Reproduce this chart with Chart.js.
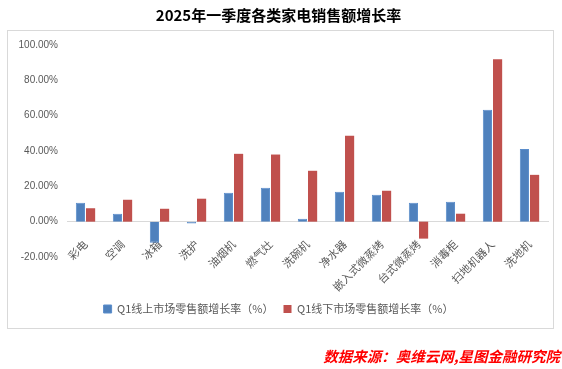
<!DOCTYPE html>
<html>
<head>
<meta charset="utf-8">
<script src="https://cdn.jsdelivr.net/npm/chart.js@4"></script>
<style>
  html, body { margin:0; padding:0; background:#fff; }
  #wrap { width:562px; height:369px; position:relative; }
</style>
</head>
<body>
<div id="wrap"><canvas id="chart"></canvas></div>
<script>
// ─── DATA ─────────────────────────────────────────────────────────────────────
const categories = ['彩电','空调','冰箱','洗护','油烟机','燃气灶','洗碗机','净水器','嵌入式微蒸烤','台式微蒸烤','消毒柜','扫地机器人','洗地机'];
const onlineGrowth  = [10.7, 4.5, -12.0, -1.0, 16.4, 19.2, 1.7, 17.0, 15.2, 10.7, 11.3, 63.3, 41.2];
const offlineGrowth = [7.6, 12.4, 7.3, 13.0, 38.4, 38.0, 28.8, 48.6, 17.5, -9.6, 4.5, 92.0, 26.5];
const seriesNames = ['Q1线上市场零售额增长率（%）', 'Q1线下市场零售额增长率（%）'];
const yTicks = [-20, 0, 20, 40, 60, 80, 100];

const FONT = "'Liberation Sans', 'Noto Sans CJK SC', sans-serif";
const CJK  = "'Noto Sans CJK SC', sans-serif";

// ─── FRAME + SOURCE NOTE ─────────────────────────────────────────────────────
const framePlugin = {
  id: 'frame',
  beforeDraw(chart) {
    const c = chart.ctx;
    c.save();
    c.fillStyle = '#fff';
    c.fillRect(0, 0, chart.width, chart.height);
    c.strokeStyle = '#d9d9d9';
    c.lineWidth = 1;
    c.strokeRect(7.5, 30.5, 546, 298);
    c.restore();
  },
  afterDraw(chart) {
    const c = chart.ctx;
    c.save();
    c.font = "italic bold 14.5px " + CJK;
    c.fillStyle = '#ff0000';
    c.textAlign = 'right';
    c.textBaseline = 'middle';
    c.fillText('数据来源：奥维云网,星图金融研究院', 560, 356);
    c.restore();
  }
};

// ─── CHART ───────────────────────────────────────────────────────────────────
const ctx = document.getElementById('chart').getContext('2d');
new Chart(ctx, {
  type: 'bar',
  data: {
    labels: categories,
    datasets: [
      { label: seriesNames[0], data: onlineGrowth,  backgroundColor:'#4f81bd', borderColor:'#5b8dcb', borderWidth:1, categoryPercentage:0.55, barPercentage:0.9 },
      { label: seriesNames[1], data: offlineGrowth, backgroundColor:'#c0504d', borderColor:'#c0504d', borderWidth:0, categoryPercentage:0.55, barPercentage:0.9 }
    ]
  },
  options: {
    responsive: true, maintainAspectRatio: false, animation: false,
    layout: { padding: { top:0, bottom:44.5, left:9, right:14 } },
    plugins: {
      title: { display:true, text:'2025年一季度各类家电销售额增长率', color:'#000', font:{family:CJK, size:15, weight:'bold'}, padding:{top:6, bottom:21} },
      legend: {
        position:'bottom',
        // empty title only reserves the gap between plot and legend
        title: { display:true, text:'', font:{size:1}, padding:{top:35.3, bottom:0} },
        labels: { boxWidth:8, boxHeight:8, padding:10, color:'#595959', font:{family:CJK, size:11} }
      },
      tooltip: { enabled:false }
    },
    scales: {
      x: {
        position: { y: 0 },
        grid: { display:false },
        border: { color:'#d9d9d9', width:1 },
        ticks: { autoSkip:false, minRotation:45, maxRotation:45, padding:8, color:'#595959', font:{family:CJK, size:11} }
      },
      y: {
        min: -20, max: 100,
        afterFit: s => { s.width = 58; },
        afterBuildTicks: s => { s.ticks = yTicks.map(v => ({ value: v })); },
        grid: { display:false, drawTicks:false },
        border: { display:false },
        ticks: { padding:9, color:'#595959', font:{family:FONT, size:10}, callback: v => v.toFixed(2) + '%' }
      }
    }
  },
  plugins: [framePlugin]
});
</script>
</body>
</html>
